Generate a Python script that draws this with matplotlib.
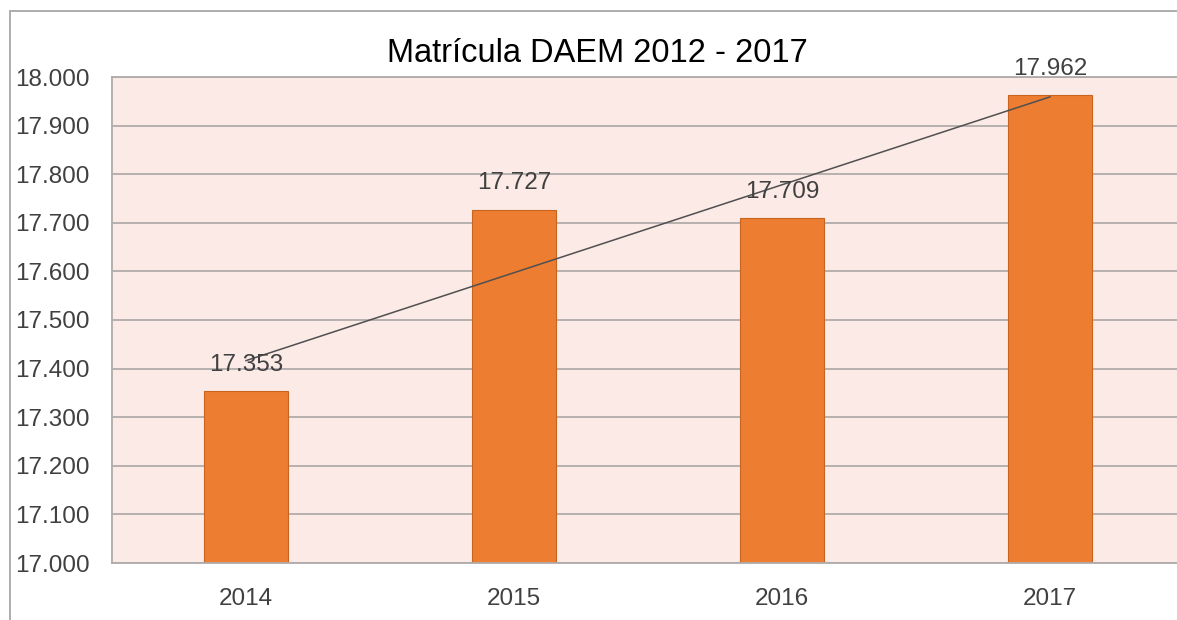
import numpy as np
from matplotlib import pyplot as plt
from matplotlib.patches import Rectangle
from matplotlib.ticker import FuncFormatter

# Data
years = ['2014', '2015', '2016', '2017']
matricula = [17353, 17727, 17709, 17962]
y_ticks = list(range(17000, 18001, 100))

# Parameters
bar_colour = '#ED7D31'
edge_colour = '#C8641E'
plot_bg = '#FBEAE6'
grid_colour = '#B0ABAA'
text_colour = '#404040'
font = 'Liberation Sans'


def miles(v, pos=None):
    return f'{int(round(v)):,}'.replace(',', '.')


def main():
    plt.rcParams['font.family'] = [font, 'DejaVu Sans']

    fig = plt.figure(figsize=(11.77, 6.2), dpi=100)
    ax = fig.add_axes([112 / 1177, 1 - 563 / 620, 1072 / 1177, 486 / 620])

    # outer chart border (cut on right and bottom like the screenshot)
    fig.patches.append(Rectangle((10 / 1177, -0.1), 1.2, 1.1 - 11 / 620,
                                 transform=fig.transFigure, fill=False,
                                 edgecolor='#A0A0A0', linewidth=1.2))

    x = np.arange(len(years))
    ax.set_facecolor(plot_bg)
    ax.bar(x, matricula, width=0.315, color=bar_colour, edgecolor=edge_colour,
           linewidth=0.8, zorder=2)

    # linear trend line
    m, b = np.polyfit(x, matricula, 1)
    ax.plot([x[0], x[-1]], [m * x[0] + b, m * x[-1] + b], color='#505050',
            linewidth=1.1, zorder=3)

    for xi, v in zip(x, matricula):
        ax.text(xi, v + 55, miles(v), ha='center', va='center', fontsize=17.5,
                color=text_colour, zorder=4)

    ax.set_xlim(-0.5, 3.5)
    ax.set_ylim(17000, 18000)
    ax.set_yticks(y_ticks)
    ax.yaxis.set_major_formatter(FuncFormatter(miles))
    ax.set_xticks(x)
    ax.set_xticklabels(years)
    ax.tick_params(axis='both', length=0, labelsize=17.5, colors=text_colour)
    ax.tick_params(axis='y', pad=16)
    ax.tick_params(axis='x', pad=18)
    ax.grid(axis='y', color=grid_colour, linewidth=1.3, zorder=1)
    ax.set_axisbelow(True)
    for s in ax.spines.values():
        s.set_color(grid_colour)
        s.set_linewidth(1.3)

    fig.text(597 / 1177, 1 - 53 / 620, 'Matrícula DAEM 2012 - 2017',
             ha='center', va='center', fontsize=23.5, color='black')

    fig.savefig('out.png', dpi=100, facecolor='white')


if __name__ == '__main__':
    main()
